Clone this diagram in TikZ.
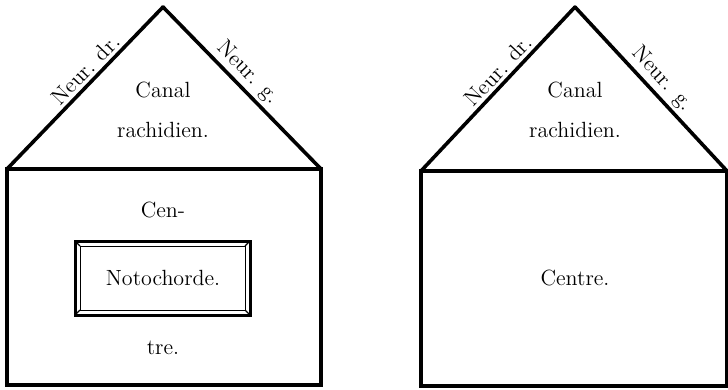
\documentclass[tikz,border=0pt]{standalone}
\begin{document}
\begin{tikzpicture}[x=0.5pt,y=-0.5pt,
  thickline/.style={line width=2pt,line join=miter},
  legline/.style={line width=1.8pt,line cap=round},
  lbl/.style={font=\fontsize{11}{13}\selectfont,inner sep=0pt},
  leglbl/.style={font=\fontsize{11}{13}\selectfont,sloped,above,inner sep=1.5pt}]
\useasboundingbox (0,0) rectangle (728,390);
% ---- left figure ----
\coordinate (LA) at (163,7);
\coordinate (LBL) at (7,169);
\coordinate (LBR) at (321,169);
\coordinate (LDR) at (321,385);
\draw[legline] (LBL) -- node[leglbl,pos=0.56]{Neur. dr.} (LA);
\draw[legline] (LA) -- node[leglbl,pos=0.47]{Neur. g.} (LBR);
\draw[thickline] (LBL) rectangle (LDR);
\node[lbl] (lcanal) at (163,90) {Canal};
\node[lbl] (lrach) at (163,130) {rachidien.};
\node[lbl] (lcen) at (163,210) {Cen-};
\node[lbl] (ltre) at (163,348) {tre.};
% notochord box
\coordinate (N1) at (75,241);
\coordinate (N2) at (250,241);
\coordinate (N3) at (250,315);
\coordinate (N4) at (75,315);
\coordinate (M1) at (80,246);
\coordinate (M2) at (245,246);
\coordinate (M3) at (245,310);
\coordinate (M4) at (80,310);
\draw[line width=1.5pt] (N1) -- (N2) -- (N3) -- (N4) -- cycle;
\draw[line width=0.5pt] (M1) -- (M2) -- (M3) -- (M4) -- cycle;
\draw[line width=0.6pt] (N1) -- (M1) (N2) -- (M2) (N3) -- (M3) (N4) -- (M4);
\node[lbl] (noto) at (163,278) {Notochorde.};
% ---- right figure ----
\coordinate (RA) at (575,7);
\coordinate (RBL) at (421,171);
\coordinate (RBR) at (727,171);
\coordinate (RDR) at (727,386);
\draw[legline] (RBL) -- node[leglbl,pos=0.56]{Neur. dr.} (RA);
\draw[legline] (RA) -- node[leglbl,pos=0.5]{Neur. g.} (RBR);
\draw[thickline] (RBL) rectangle (RDR);
\node[lbl] (rcanal) at (575,90) {Canal};
\node[lbl] (rrach) at (575,130) {rachidien.};
\node[lbl] (rcentre) at (575,278) {Centre.};
\end{tikzpicture}
\end{document}
